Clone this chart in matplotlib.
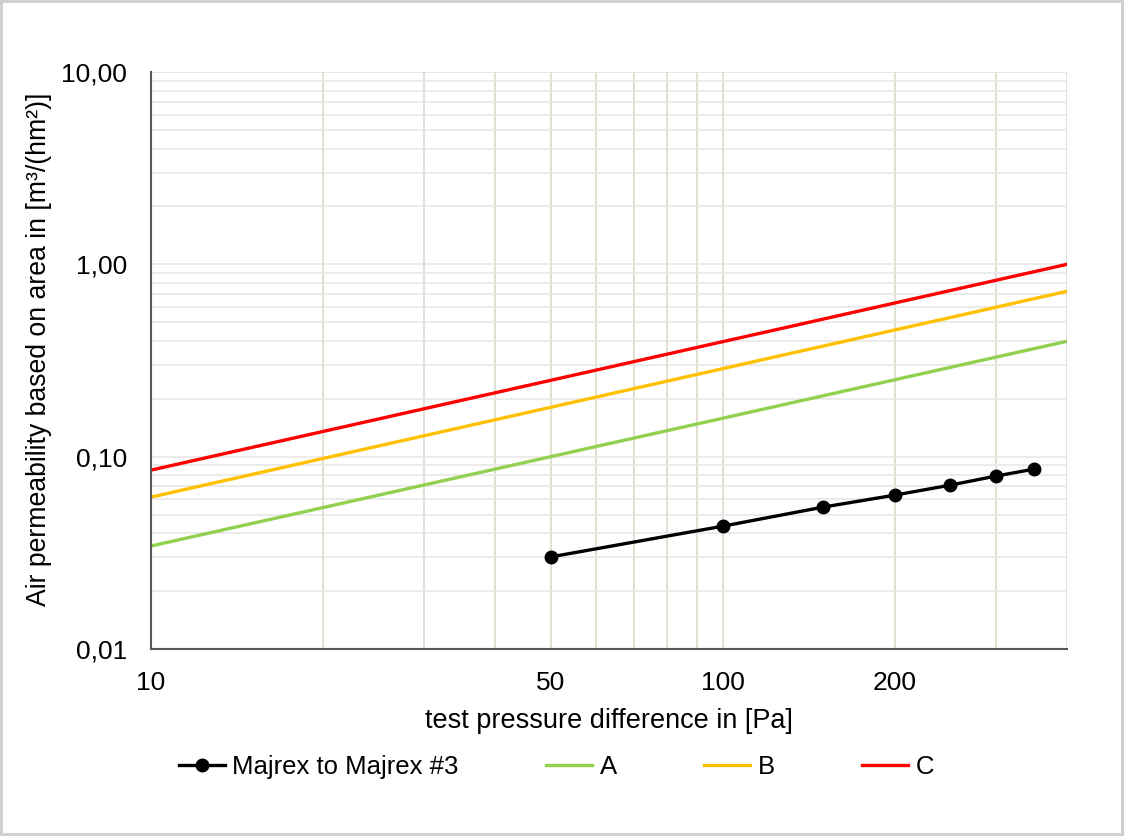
import matplotlib
matplotlib.use("Agg")
import matplotlib.pyplot as plt
from matplotlib.ticker import FixedLocator, FixedFormatter, NullFormatter

plt.rcParams['font.family'] = ['Liberation Sans', 'DejaVu Sans']

# measured series
pressure = [50, 100, 150, 200, 250, 300, 350]
majrex = [0.0301, 0.0435, 0.0547, 0.0631, 0.0711, 0.0792, 0.0861]

# class limits (straight lines in log-log, read at both ends)
limit_x = [10, 400]
class_a = [0.0343, 0.398]
class_b = [0.0616, 0.724]
class_c = [0.0851, 1.0]

x_ticks = [10, 50, 100, 200]
x_labels = ["10", "50", "100", "200"]
y_ticks = [0.01, 0.1, 1, 10]
y_labels = ["0,01", "0,10", "1,00", "10,00"]

fig = plt.figure(figsize=(11.24, 8.36), dpi=100)
fig.patch.set_edgecolor('#d0d0d0')
fig.patch.set_linewidth(3)
ax = fig.add_axes([0.1343, 0.2237, 0.815, 0.6902])

ax.plot(pressure, majrex, color='black', lw=2.4, marker='o', markersize=9,
        label='Majrex to Majrex #3', zorder=5)
ax.plot(limit_x, class_a, color='#92d050', lw=2.4, label='A')
ax.plot(limit_x, class_b, color='#ffc000', lw=2.4, label='B')
ax.plot(limit_x, class_c, color='#ff0000', lw=2.4, label='C')

ax.set_xscale('log')
ax.set_yscale('log')
ax.set_xlim(10, 400)
ax.set_ylim(0.01, 10)

ax.xaxis.set_major_locator(FixedLocator(x_ticks))
ax.xaxis.set_major_formatter(FixedFormatter(x_labels))
ax.xaxis.set_minor_formatter(NullFormatter())
ax.yaxis.set_major_locator(FixedLocator(y_ticks))
ax.yaxis.set_major_formatter(FixedFormatter(y_labels))
ax.yaxis.set_minor_formatter(NullFormatter())

# grid lines like the spreadsheet chart
vgrid = [20, 30, 40, 50, 60, 70, 80, 90, 100, 200, 300, 400]
for v in vgrid:
    ax.axvline(v, color='#dcdccb', lw=1.2, zorder=0)
for dec in [0.01, 0.1, 1]:
    for m in range(1, 10):
        ax.axhline(dec * m, color='#e8e8e8', lw=1.2, zorder=0)
ax.axhline(10, color='#e0e0e0', lw=1.2, zorder=0)

ax.tick_params(which='both', length=0)
ax.tick_params(axis='x', pad=16, labelsize=19)
ax.tick_params(axis='y', pad=17, labelsize=19)
for s in ['top', 'right']:
    ax.spines[s].set_visible(False)
for s in ['left', 'bottom']:
    ax.spines[s].set_color('#595959')
    ax.spines[s].set_linewidth(1.5)

ax.set_xlabel('test pressure difference in [Pa]', fontsize=19.5, labelpad=9)
ax.set_ylabel('Air permeability based on area in [m³/(hm²)]', fontsize=19.2, labelpad=7)
ax.yaxis.label.set_y(0.52)

fig.legend(loc='center', bbox_to_anchor=(0.495, 0.0825), ncol=4, frameon=False,
           fontsize=18.5, handlelength=1.8, columnspacing=3.4, handletextpad=0.28)

fig.savefig('out.png', dpi=100)
